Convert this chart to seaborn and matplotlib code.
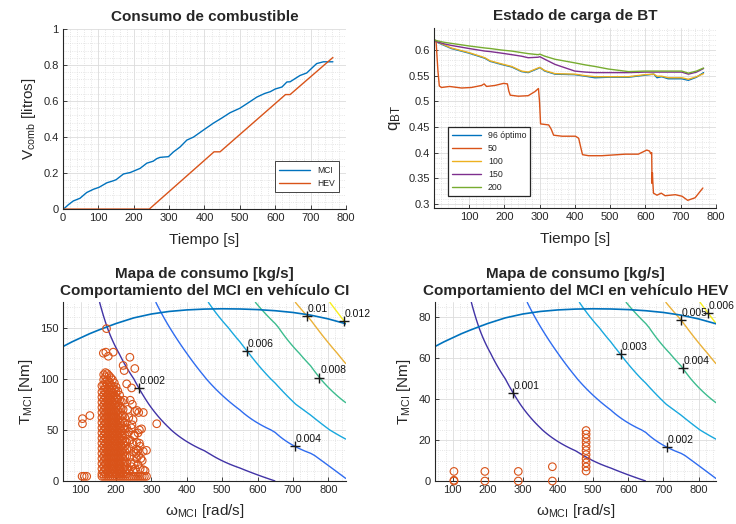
import numpy as np
import matplotlib
matplotlib.use("Agg")
import matplotlib.pyplot as plt
import seaborn as sns
from matplotlib.ticker import MultipleLocator, FormatStrFormatter

# ---- Consumo acumulado de combustible [litros] ----
t_mci = [0, 5, 15, 29, 48, 67, 86, 102, 124, 142, 150, 171, 190, 201, 218, 237, 255, 265,
         274, 285, 298, 312, 331, 350, 369, 400, 425, 450, 472, 500, 525, 548, 570, 586,
         600, 619, 633, 642, 670, 689, 717, 736, 763]
v_mci = [0, 0.006, 0.024, 0.045, 0.060, 0.092, 0.110, 0.121, 0.146, 0.157, 0.163, 0.195,
         0.203, 0.212, 0.226, 0.255, 0.266, 0.280, 0.287, 0.289, 0.291, 0.317, 0.345, 0.383,
         0.400, 0.443, 0.477, 0.507, 0.535, 0.560, 0.592, 0.622, 0.642, 0.652, 0.667, 0.678,
         0.706, 0.707, 0.742, 0.756, 0.808, 0.818, 0.818]
t_hev = [0, 244, 427, 444, 629, 642, 763]
v_hev = [0, 0, 0.318, 0.318, 0.636, 0.636, 0.842]

# ---- Estado de carga de la BT ----
t_soc = [1, 10, 30, 50, 100, 145, 160, 192, 221, 249, 268, 296, 301, 315, 344, 400, 430,
         457, 495, 552, 599, 624, 633, 646, 665, 703, 722, 745, 765]
soc_96 = [0.620, 0.615, 0.609, 0.603, 0.594, 0.584, 0.578, 0.572, 0.567, 0.558, 0.556, 0.564,
          0.566, 0.559, 0.553, 0.552, 0.549, 0.546, 0.547, 0.547, 0.551, 0.553, 0.546, 0.548,
          0.544, 0.544, 0.541, 0.547, 0.556]
soc_100 = [0.620, 0.616, 0.610, 0.604, 0.595, 0.585, 0.579, 0.573, 0.568, 0.559, 0.557, 0.565,
           0.566, 0.560, 0.554, 0.553, 0.550, 0.548, 0.548, 0.548, 0.552, 0.553, 0.549, 0.549,
           0.546, 0.546, 0.543, 0.548, 0.554]
soc_150 = [0.620, 0.616, 0.612, 0.609, 0.603, 0.598, 0.597, 0.594, 0.591, 0.588, 0.585, 0.586,
           0.587, 0.582, 0.572, 0.559, 0.557, 0.556, 0.556, 0.556, 0.557, 0.557, 0.557, 0.557,
           0.557, 0.557, 0.553, 0.557, 0.564]
soc_200 = [0.620, 0.618, 0.615, 0.613, 0.608, 0.604, 0.603, 0.600, 0.598, 0.595, 0.593, 0.591,
           0.592, 0.588, 0.582, 0.575, 0.571, 0.568, 0.563, 0.558, 0.559, 0.559, 0.559, 0.559,
           0.559, 0.559, 0.555, 0.559, 0.565]
t_soc50 = [1, 7, 12, 16, 22, 45, 79, 107, 136, 143, 150, 174, 198, 209, 213, 217, 240, 268,
           287, 297, 300, 303, 326, 333, 340, 364, 402, 411, 417, 422, 439, 477, 543, 580,
           604, 612, 615, 618, 619, 620, 621, 623, 633, 645, 656, 685, 704, 720, 741, 763]
soc_50 = [0.620, 0.615, 0.560, 0.530, 0.527, 0.529, 0.526, 0.527, 0.531, 0.534, 0.529, 0.531,
          0.535, 0.534, 0.520, 0.512, 0.510, 0.511, 0.519, 0.525, 0.500, 0.456, 0.454, 0.446,
          0.434, 0.432, 0.432, 0.428, 0.410, 0.396, 0.394, 0.394, 0.397, 0.397, 0.405, 0.403,
          0.398, 0.400, 0.340, 0.361, 0.345, 0.321, 0.317, 0.321, 0.316, 0.318, 0.315, 0.307,
          0.312, 0.331]

# ---- Mapa de consumo del MCI [kg/s] (filas: par, columnas: velocidad) ----
map_w = [50, 150, 250, 350, 450, 550, 650, 750, 850]
map_T = [0, 25, 50, 75, 100, 125, 150, 175]
fuel_map = [
    [0.00015, 0.00035, 0.00057, 0.00082, 0.00110, 0.00145, 0.00200, 0.00280, 0.00390],
    [0.00024, 0.00058, 0.00093, 0.00140, 0.00185, 0.00253, 0.00320, 0.00388, 0.00496],
    [0.00033, 0.00081, 0.00129, 0.00196, 0.00267, 0.00336, 0.00409, 0.00530, 0.00660],
    [0.00041, 0.00104, 0.00164, 0.00248, 0.00330, 0.00418, 0.00529, 0.00651, 0.00792],
    [0.00050, 0.00127, 0.00200, 0.00295, 0.00395, 0.00500, 0.00615, 0.00750, 0.00930],
    [0.00059, 0.00150, 0.00236, 0.00346, 0.00455, 0.00567, 0.00697, 0.00849, 0.01050],
    [0.00068, 0.00173, 0.00280, 0.00398, 0.00516, 0.00641, 0.00783, 0.00964, 0.01182],
    [0.00076, 0.00196, 0.00318, 0.00450, 0.00585, 0.00730, 0.00892, 0.01084, 0.01300],
]
# curva de par máximo
tmax_w = [50, 75, 100, 125, 150, 175, 200, 250, 300, 350, 400, 450, 500, 550, 600, 650, 700,
          750, 800, 850]
tmax_T = [131.5, 136, 140, 144, 147.5, 150.8, 154, 159.5, 163.3, 165.8, 167.3, 168.1, 168.4,
          168.2, 167.6, 166.5, 164.8, 162.2, 158.5, 153.7]
hev_scale = 0.5  # MCI del HEV: par y consumo a escala

levels_ci = [0.002, 0.004, 0.006, 0.008, 0.010, 0.012]
label_w_ci = [265, 706, 570, 775, 740, 845]
levels_hev = [0.001, 0.002, 0.003, 0.004, 0.005, 0.006]
label_w_hev = [272, 711, 578, 755, 750, 828]

# ---- Puntos de operación MCI (vehículo CI) ----
ci_col_w = [160, 165, 170, 175, 180, 185, 190, 195, 200, 205, 210, 215, 220, 225, 230]
ci_col_T = [
    [7, 12, 17, 22, 27, 32, 37, 42, 47, 52, 57, 62, 67, 72, 77, 82, 87, 93],
    [9, 14, 19, 24, 29, 34, 39, 44, 49, 54, 59, 64, 69, 74, 79, 84, 89, 94, 99, 104],
    [7, 12, 17, 22, 27, 32, 37, 42, 47, 52, 57, 62, 67, 72, 77, 82, 87, 92, 97, 102, 106],
    [9, 14, 19, 24, 29, 34, 39, 44, 49, 54, 59, 64, 69, 74, 79, 84, 89, 94, 99, 105],
    [7, 12, 17, 22, 27, 32, 37, 42, 47, 52, 57, 62, 67, 72, 77, 82, 87, 92, 97, 103],
    [9, 14, 19, 24, 29, 34, 39, 44, 49, 54, 59, 64, 69, 74, 79, 84, 89, 94, 101],
    [7, 12, 17, 22, 27, 32, 37, 42, 47, 52, 57, 62, 67, 72, 77, 82, 87, 93, 99],
    [9, 14, 19, 24, 29, 34, 39, 44, 49, 54, 59, 64, 69, 74, 79, 84, 90, 96],
    [7, 12, 17, 22, 27, 32, 37, 42, 47, 52, 57, 62, 67, 72, 77, 82, 87, 92],
    [9, 14, 19, 24, 29, 34, 39, 44, 49, 54, 59, 64, 69, 74, 80, 88],
    [7, 12, 17, 22, 27, 32, 37, 42, 47, 52, 57, 62, 67, 73, 79, 84],
    [9, 14, 19, 24, 29, 34, 39, 44, 49, 54, 59, 64, 71, 78],
    [7, 12, 17, 22, 27, 32, 37, 42, 47, 52, 58, 64, 70],
    [9, 14, 19, 24, 29, 34, 39, 45, 51, 57, 62],
    [7, 12, 18, 24, 31, 38, 45, 52],
]
ci_idle_w = [160, 166, 172, 178, 184, 190, 196, 202, 208, 214, 220, 226, 232, 238, 244, 250,
             256, 262, 268, 274, 280, 286]
ci_idle_T = 4.6
ci_extra_w = [104, 110, 117, 105, 105, 126, 173, 171, 164, 178, 192, 239, 253, 220, 223, 244,
              223, 277, 253, 272, 315, 251, 277, 277, 258, 251, 240, 259, 264, 266, 268, 264,
              236, 245, 252, 258, 262, 270, 282, 240, 250, 233, 248, 262, 286, 246, 254, 230,
              242, 236, 238, 244, 250, 256, 262, 268, 274, 240, 248, 257, 266, 236, 243]
ci_extra_T = [4.6, 4.6, 4.6, 61, 56, 64, 149, 126, 125, 122, 126, 121, 110, 113, 108, 91,
              79, 67, 68, 51, 56, 44, 29, 11, 22, 17, 79, 69, 67, 50, 34, 25,
              62, 55, 45, 38, 30, 22, 10, 40, 28, 70, 60, 47, 30, 75, 12, 95,
              18, 32, 10, 14, 9, 27, 16, 12, 20, 24, 36, 31, 37, 48, 52]

# ---- Puntos de operación MCI (vehículo HEV) ----
hev_op_w = [104, 104, 104, 192, 192, 287, 287, 384, 384, 480, 480, 480, 480, 480, 480, 480,
            480, 480, 480, 480]
hev_op_T = [0, 0.4, 4.7, 0, 4.7, 0, 4.7, 0, 7.0, 4.9, 6.9, 8.9, 10.9, 12.9, 14.9, 16.9,
            18.9, 20.9, 22.9, 24.7]

# colores MATLAB
c_blue, c_orange, c_yellow, c_purple, c_green = "#0072BD", "#D95319", "#EDB120", "#7E2F8E", "#77AC30"
level_colors = ["#4133a6", "#2f6cf0", "#18a8de", "#3cbc8e", "#eab138", "#f7ee1d"]

sns.set_theme(style="ticks")
plt.rcParams["font.family"] = ["Liberation Sans", "DejaVu Sans"]
plt.rcParams["mathtext.fontset"] = "custom"
plt.rcParams["mathtext.rm"] = "Liberation Sans"
plt.rcParams["mathtext.it"] = "Liberation Sans:italic"
plt.rcParams["mathtext.default"] = "regular"
plt.rcParams["axes.titleweight"] = "bold"

fig = plt.figure(figsize=(7.36, 5.24), dpi=100)
ax1 = fig.add_axes([0.0856, 0.601, 0.3845, 0.3436])
ax2 = fig.add_axes([0.5897, 0.603, 0.383, 0.3436])
ax3 = fig.add_axes([0.0856, 0.082, 0.3845, 0.3416])
ax4 = fig.add_axes([0.591, 0.082, 0.382, 0.3416])


def style_axes(ax, xminor, yminor):
    for s in ["top", "right"]:
        ax.spines[s].set_visible(False)
    for s in ["left", "bottom"]:
        ax.spines[s].set_color("#262626")
        ax.spines[s].set_linewidth(0.8)
    ax.tick_params(which="major", direction="in", length=3, width=0.6, colors="#262626",
                   labelsize=8, pad=3)
    ax.tick_params(which="minor", length=0)
    ax.xaxis.set_minor_locator(MultipleLocator(xminor))
    ax.yaxis.set_minor_locator(MultipleLocator(yminor))
    ax.grid(which="major", color="#dcdcdc", linewidth=0.6)
    ax.grid(which="minor", color="#dedede", linestyle=":", linewidth=0.6)
    ax.set_axisbelow(True)


# Consumo de combustible
sns.lineplot(x=t_mci, y=v_mci, ax=ax1, color=c_blue, lw=1.0, label="MCI")
sns.lineplot(x=t_hev, y=v_hev, ax=ax1, color=c_orange, lw=1.0, label="HEV")
ax1.set_xlim(0, 800)
ax1.set_ylim(0, 1)
ax1.xaxis.set_major_locator(MultipleLocator(100))
ax1.yaxis.set_major_locator(MultipleLocator(0.2))
ax1.yaxis.set_major_formatter(FormatStrFormatter("%g"))
style_axes(ax1, 20, 0.04)
ax1.set_title("Consumo de combustible", fontsize=11, pad=6)
ax1.set_xlabel("Tiempo [s]", fontsize=11, labelpad=7)
ax1.set_ylabel("$V_{comb}$ [litros]", fontsize=11, labelpad=4)
ax1.legend(loc="lower right", bbox_to_anchor=(0.975, 0.094), borderaxespad=0, fontsize=6.2,
           fancybox=False, edgecolor="#262626", framealpha=1, handlelength=3.6,
           borderpad=0.5, labelspacing=0.5).get_frame().set_linewidth(0.6)

# Estado de carga de BT
sns.lineplot(x=t_soc, y=soc_96, ax=ax2, color=c_blue, lw=1.0, label="96 óptimo")
sns.lineplot(x=t_soc50, y=soc_50, ax=ax2, color=c_orange, lw=1.0, label="50")
sns.lineplot(x=t_soc, y=soc_100, ax=ax2, color=c_yellow, lw=1.0, label="100")
sns.lineplot(x=t_soc, y=soc_150, ax=ax2, color=c_purple, lw=1.0, label="150")
sns.lineplot(x=t_soc, y=soc_200, ax=ax2, color=c_green, lw=1.0, label="200")
ax2.set_xlim(1, 800)
ax2.set_ylim(0.292, 0.643)
ax2.xaxis.set_major_locator(MultipleLocator(100))
ax2.yaxis.set_major_locator(MultipleLocator(0.05))
ax2.yaxis.set_major_formatter(FormatStrFormatter("%g"))
style_axes(ax2, 20, 0.01)
ax2.set_title("Estado de carga de BT", fontsize=11, pad=6)
ax2.set_xlabel("Tiempo [s]", fontsize=11, labelpad=7)
ax2.set_ylabel("$q_{BT}$", fontsize=12, labelpad=4)
ax2.legend(loc="upper left", bbox_to_anchor=(0.05, 0.45), borderaxespad=0, fontsize=6.3,
           fancybox=False, edgecolor="#262626", framealpha=1, handlelength=3.3,
           borderpad=0.45, labelspacing=0.45).get_frame().set_linewidth(0.9)


def draw_map(ax, scale, levels, label_w):
    wf = np.linspace(50, 850, 321)
    Tf = np.linspace(0, 175, 351)
    fm = np.array(fuel_map)
    cols = np.array([np.interp(Tf, map_T, fm[:, j]) for j in range(fm.shape[1])]).T
    F = np.array([np.interp(wf, map_w, row) for row in cols]) * scale
    Ts = Tf * scale
    ax.contour(wf, Ts, F, levels=levels, colors=level_colors, linewidths=1.0)
    sns.lineplot(x=tmax_w, y=np.array(tmax_T) * scale, ax=ax, color=c_blue, lw=1.2)
    for lev, wl in zip(levels, label_w):
        j = np.argmin(np.abs(wf - wl))
        tl = np.interp(lev, F[:, j], Ts)
        ax.plot(wl, tl, "+", color="k", ms=7, mew=1.0, clip_on=False, zorder=6)
        ax.annotate(f"{lev:g}", (wl, tl), xytext=(0.5, 1.5), textcoords="offset points",
                    fontsize=7.5, ha="left", va="bottom", color="#111111", zorder=6,
                    annotation_clip=False)


# Mapa CI
draw_map(ax3, 1.0, levels_ci, label_w_ci)
ci_w = [w for w, col in zip(ci_col_w, ci_col_T) for _ in col] + ci_idle_w + ci_extra_w
ci_T = [T for col in ci_col_T for T in col] + [ci_idle_T] * len(ci_idle_w) + ci_extra_T
sns.scatterplot(x=ci_w, y=ci_T, ax=ax3, marker="o", s=30, color=c_orange, facecolor="none",
                edgecolor=c_orange, linewidth=0.8, clip_on=False, zorder=4)
ax3.set_xlim(50, 850)
ax3.set_ylim(0, 175)
ax3.set_xticks(range(100, 900, 100))
ax3.yaxis.set_major_locator(MultipleLocator(50))
style_axes(ax3, 20, 10)
ax3.set_title("Mapa de consumo [kg/s]\nComportamiento del MCI en vehículo CI",
              fontsize=11, pad=5, linespacing=1.3)
ax3.set_xlabel(r"$\omega_{MCI}$ [rad/s]", fontsize=11, labelpad=5)
ax3.set_ylabel("$T_{MCI}$ [Nm]", fontsize=11, labelpad=4)

# Mapa HEV
draw_map(ax4, hev_scale, levels_hev, label_w_hev)
sns.scatterplot(x=hev_op_w, y=hev_op_T, ax=ax4, marker="o", s=30, color=c_orange,
                facecolor="none", edgecolor=c_orange, linewidth=0.8, clip_on=False, zorder=4)
ax4.set_xlim(50, 850)
ax4.set_ylim(0, 175 * hev_scale)
ax4.set_xticks(range(100, 900, 100))
ax4.yaxis.set_major_locator(MultipleLocator(20))
style_axes(ax4, 20, 5)
ax4.set_title("Mapa de consumo [kg/s]\nComportamiento del MCI en vehículo HEV",
              fontsize=11, pad=5, linespacing=1.3)
ax4.set_xlabel(r"$\omega_{MCI}$ [rad/s]", fontsize=11, labelpad=5)
ax4.set_ylabel("$T_{MCI}$ [Nm]", fontsize=11, labelpad=4)

fig.savefig("out.png", dpi=100, facecolor="white")
